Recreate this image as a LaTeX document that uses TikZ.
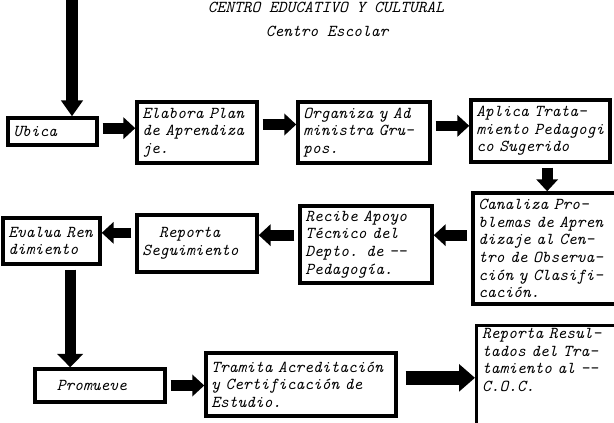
\documentclass[tikz,border=0pt]{standalone}
\usepackage{fontspec}
\usetikzlibrary{arrows.meta}
\newcommand{\maquina}{\fontsize{12.5}{13.2}\selectfont\ttfamily\itshape}
\tikzset{caja/.style 2 args = {draw, rectangle, line width = 2.6pt,
                               text width = #1, minimum height = #2,
                               inner xsep = 4pt, inner ysep = 2pt,
                               align = left, font = \maquina},
         flecha/.style = {line width = #1, shorten <= 3pt,
                          -{Triangle[width = 16pt, length = 9pt]}},
         flecha/.default = 8pt,
         titulo/.style = {font = \maquina}
        }

\begin{document}
\begin{tikzpicture}[x = 0.75pt, y = -0.75pt]
  \useasboundingbox (0, 0) rectangle (614, 422);
  \node[titulo, anchor = base] (centro) at (326, 12) {CENTRO EDUCATIVO Y CULTURAL};
  \node[titulo] (escolar) at (327, 31) {Centro Escolar};

  \node[caja = {58.75pt}{20.25pt}] (ubica) at (52.5, 131.5) {Ubica};
  \node[caja = {82pt}{45.75pt}] (elabora) at (197, 132.5) {Elabora Plan\\de Aprendiza\\je.};
  \node[caja = {91pt}{45.75pt}] (organiza) at (364, 132.5) {Organiza y Ad\\ministra Gru-\\pos.};
  \node[caja = {96.25pt}{46.5pt}] (aplica) at (540.5, 131) {Aplica Trata-\\miento Pedagogi\\co Sugerido};
  \node[caja = {106pt}{83.25pt}] (canaliza) at (549, 248.5) {Canaliza Pro-\\blemas de Apren\\dizaje al Cen-\\tro de Observa-\\ción y Clasifi-\\cación.};
  \node[caja = {91pt}{57.75pt}] (recibe) at (366, 244.5) {Recibe Apoyo\\Técnico del\\Depto. de --\\Pedagogía.};
  \node[caja = {82pt}{42.75pt}] (seguimiento) at (197, 243.5) {\hspace{1em}Reporta\\Seguimiento};
  \node[caja = {64.75pt}{34.5pt}] (evalua) at (51.5, 241) {Evalua Ren\\dimiento};
  \node[caja = {89.5pt}{24.75pt}] (promueve) at (100, 385.5) {\hspace{1em}Promueve};
  \node[caja = {134.5pt}{47.25pt}] (tramita) at (301, 384.5) {Tramita Acreditación\\y Certificación de\\Estudio.};
  \node[caja = {106pt}{10pt}, anchor = north west] (resultados) at (475, 324)
       {Reporta Resul-\\tados del Tra-\\tamiento al --\\C.O.C.\rule[-24pt]{0pt}{1pt}};

  \coordinate (inicio) at (72, -5);
  \draw[flecha = 9pt, -{Triangle[width = 16pt, length = 12pt]}] (inicio) -- (inicio |- ubica.north);
  \draw[flecha] ([yshift = 2.5pt]ubica.east) -- ([yshift = 2.5pt]ubica.east -| elabora.west);
  \draw[flecha] ([yshift = 6pt]elabora.east) -- ([yshift = 6pt]organiza.west);
  \draw[flecha] ([yshift = 5pt]organiza.east) -- ([yshift = 5pt]organiza.east -| aplica.west);
  \draw[flecha] ([xshift = 5pt]aplica.south) -- ([xshift = 5pt]aplica.south |- canaliza.north);
  \draw[flecha] ([yshift = 10pt]canaliza.west) -- ([yshift = 10pt]canaliza.west -| recibe.east);
  \draw[flecha] ([yshift = 7pt]recibe.west) -- ([yshift = 7pt]recibe.west -| seguimiento.east);
  \draw[flecha] ([yshift = 8pt]seguimiento.west) -- ([yshift = 8pt]seguimiento.west -| evalua.east);
  \draw[flecha, -{Triangle[width = 19pt, length = 10pt]}] ([xshift = 14pt]evalua.south) -- ([xshift = 14pt]evalua.south |- promueve.north);
  \draw[flecha] (promueve.east) -- (promueve.east -| tramita.west);
  \draw[flecha = 10pt, shorten <= 6pt, -{Triangle[width = 20pt, length = 12pt]}] ([yshift = 5pt]tramita.east) -- ([yshift = 5pt]tramita.east -| resultados.west);
\end{tikzpicture}
\end{document}
